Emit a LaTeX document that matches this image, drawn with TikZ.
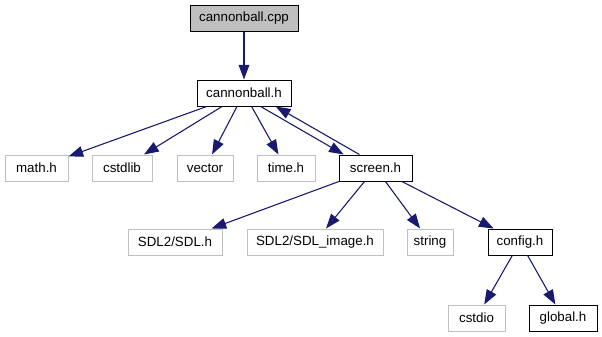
\documentclass[tikz,border=0pt]{standalone}
\usepackage{fontspec}
\setmainfont{Liberation Sans}
\usetikzlibrary{arrows.meta,
                calc,
                positioning}
\definecolor{edgeblue}{HTML}{191970}
\definecolor{sysgray}{HTML}{BFBFBF}

\begin{document}
\begin{tikzpicture}[
            x = 0.75pt, y = -0.75pt,
            base/.style = {draw, rectangle, minimum height=19.5pt, inner sep=0pt,
                    line width=0.75pt, font=\fontsize{10}{12}\selectfont},
            root/.style = {base, fill=sysgray},
            local/.style = {base},
            system/.style = {base, draw=sysgray},
            tip/.tip = {Triangle[length=11pt, width=8pt]},
            dep/.style = {draw=edgeblue, fill=edgeblue, line width=0.8pt, -tip}]
        \useasboundingbox (0,0) rectangle (602,336);

        \node [root, minimum width=81pt]      (cpp)     at (244,18)    {cannonball.cpp};
        \node [local, minimum width=70.5pt]   (hdr)     at (244,93)    {cannonball.h};

        % includes of cannonball.h
        \node [system, minimum width=47.25pt] (math)    at (36.5,168)  {math.h};
        \node [system, minimum width=45pt]    (cstdlib) at (122,168)   {cstdlib};
        \node [system, minimum width=42pt]    (vector)  at (205,168)   {vector};
        \node [system, minimum width=43.5pt]  (time)    at (286,168)   {time.h};
        \node [local, minimum width=54.75pt]  (screen)  at (375.5,168) {screen.h};

        % includes of screen.h
        \node [system, minimum width=70.5pt]  (sdl)     at (175,242)   {SDL2/SDL.h};
        \node [system, minimum width=102pt]   (sdlimg)  at (315,242)   {SDL2/SDL\_image.h};
        \node [system, minimum width=34.5pt]  (string)  at (430,242)   {string};
        \node [local, minimum width=48pt]     (config)  at (520,242)   {config.h};

        % includes of config.h
        \node [system, minimum width=42.75pt] (cstdio)  at (476.5,318) {cstdio};
        \node [local, minimum width=51pt]     (global)  at (563,318)   {global.h};
        %%
        \draw [dep] (cpp) -- (hdr);
        \draw [dep] (hdr) -- (math);
        \draw [dep] (hdr) -- (cstdlib);
        \draw [dep] (hdr) -- (vector);
        \draw [dep] (hdr) -- (time);
        \draw [dep] (hdr.-39) -- (screen.157);
        \draw [dep] (screen.140) -- (hdr.-23);
        \draw [dep] (screen) -- (sdl);
        \draw [dep] (screen) -- (sdlimg);
        \draw [dep] (screen) -- (string);
        \draw [dep] (screen) -- (config);
        \draw [dep] (config) -- (cstdio);
        \draw [dep] (config) -- (global);
    \end{tikzpicture}
\end{document}
